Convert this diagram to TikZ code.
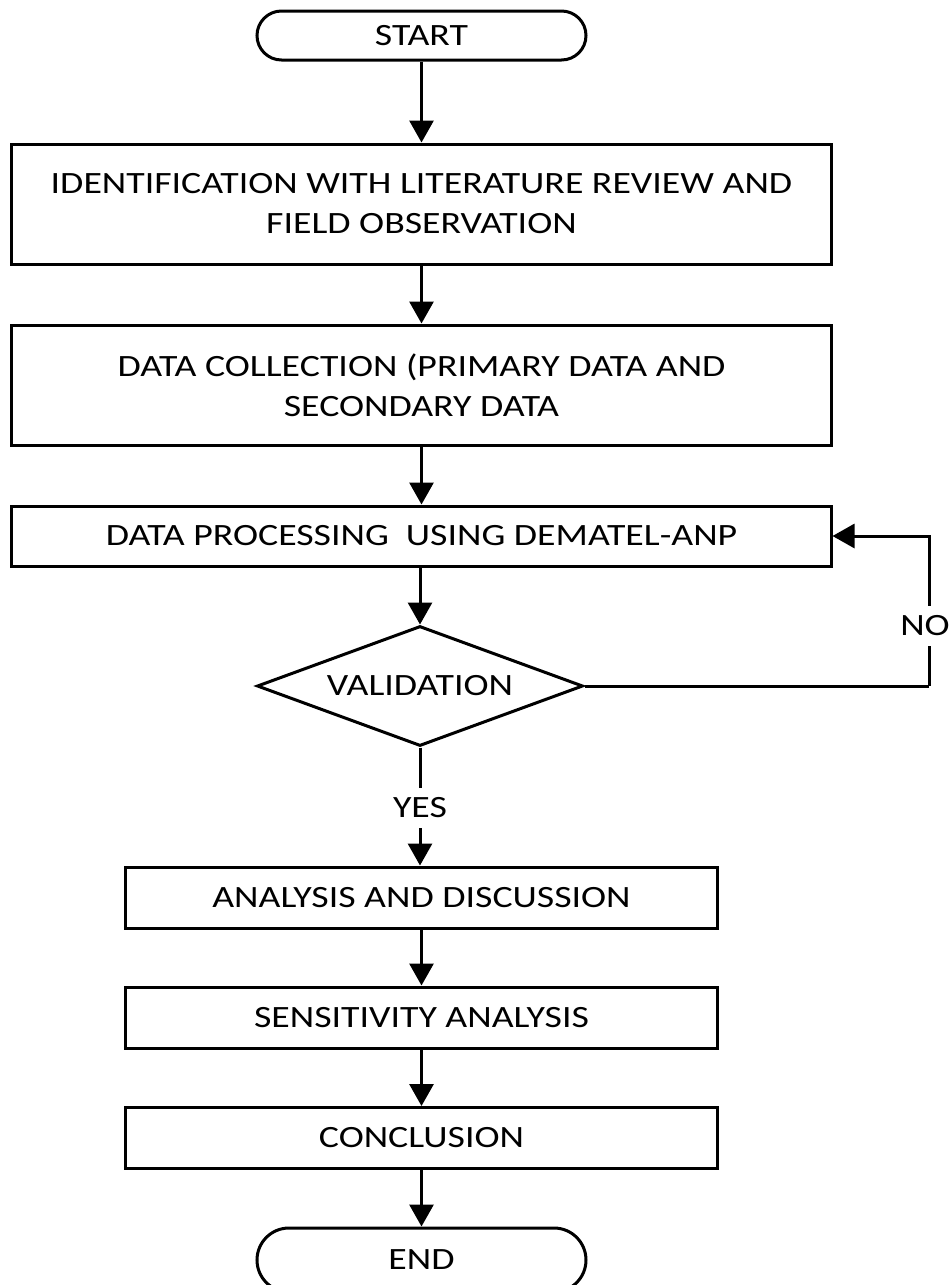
\documentclass[tikz,border=0pt]{standalone}
\usepackage{fontspec}
\setmainfont{Carlito}[FakeStretch=1.22]
\usetikzlibrary{arrows.meta,shapes.geometric}
\tikzset{
  every node/.style={font=\fontsize{31bp}{40bp}\selectfont, align=center},
  box/.style={draw, line width=3bp, inner sep=0pt, rectangle},
  term/.style={draw, line width=3bp, inner sep=0pt, rectangle},
  flow/.style={line width=3bp, -{Triangle[width=24bp,length=22bp]}},
  line/.style={line width=3bp},
  lbl/.style={fill=white, inner xsep=1bp, inner ysep=10bp},
}
\begin{document}
\begin{tikzpicture}[x=1bp,y=-1bp]
\useasboundingbox (0,0) rectangle (951,1285);
\fill[white] (0,0) rectangle (951,1285);
\node[term, rounded corners=24.5bp, minimum width=329bp, minimum height=49bp] (start) at (421.5,35.5) {START};
\node[box, minimum width=819bp, minimum height=120bp] (b1) at (421.5,204) {IDENTIFICATION WITH LITERATURE REVIEW AND\\FIELD OBSERVATION};
\node[box, minimum width=819bp, minimum height=120bp] (b2) at (421.5,385) {DATA COLLECTION (PRIMARY DATA AND\\SECONDARY DATA};
\node[box, minimum width=819bp, minimum height=60bp] (b3) at (421.5,536) {DATA PROCESSING\ \ USING DEMATEL-ANP};
\node[diamond, draw, line width=3bp, inner sep=0pt, aspect=2.7, minimum width=326bp, minimum height=120bp] (dia) at (420,686) {VALIDATION};
\node[box, minimum width=591bp, minimum height=61bp] (b4) at (421.5,897.5) {ANALYSIS AND DISCUSSION};
\node[box, minimum width=591bp, minimum height=61bp] (b5) at (421.5,1017.5) {SENSITIVITY ANALYSIS};
\node[box, minimum width=591bp, minimum height=61bp] (b6) at (421.5,1138) {CONCLUSION};
\node[term, rounded corners=32bp, minimum width=329bp, minimum height=64bp] (end) at (421.5,1260) {END};
\coordinate (c1) at (929,686);
\coordinate (c2) at (929,536);
\draw[flow] (start) -- (b1);
\draw[flow] (b1) -- (b2);
\draw[flow] (b2) -- (b3);
\draw[flow] (b3.south -| dia.north) -- (dia.north);
\draw[flow] (dia.south) -- node[lbl, pos=0.51] (yes) {YES} (dia.south |- b4.north);
\draw[flow] (b4) -- (b5);
\draw[flow] (b5) -- (b6);
\draw[flow] (b6) -- (end);
\draw[line] (dia.east) -- (c1);
\draw[flow] (c1) -- node[lbl, pos=0.40, xshift=-4bp] (no) {NO} (c2) -- (b3.east);
\end{tikzpicture}
\end{document}
